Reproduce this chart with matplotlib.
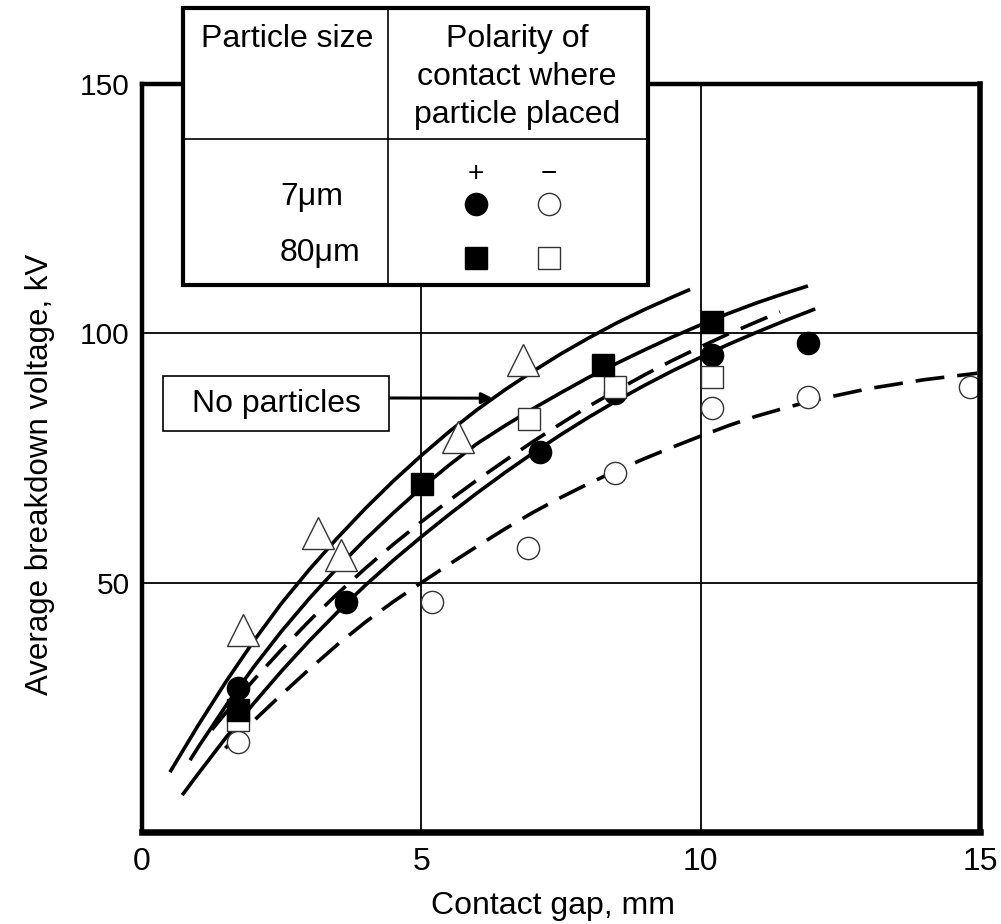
import matplotlib
matplotlib.use("Agg")
import matplotlib.pyplot as plt
from matplotlib.patches import Rectangle
from matplotlib.lines import Line2D

W, H = 1001, 924
REG = ["Liberation Sans", "DejaVu Sans"]

# ---- measured points: contact gap (mm) vs average breakdown voltage (kV) ----
gap_none = [1.81, 3.15, 3.56, 5.66, 6.82]
kv_none = [40.5, 60.0, 55.5, 79.2, 94.6]

gap_7um_pos = [1.72, 3.65, 7.12, 8.47, 10.2, 11.92]
kv_7um_pos = [28.9, 46.1, 76.2, 88.0, 95.6, 98.0]

gap_7um_neg = [1.72, 5.19, 6.91, 8.47, 10.2, 11.92, 14.82]
kv_7um_neg = [18.0, 46.1, 56.9, 72.0, 85.0, 87.2, 89.2]

gap_80um_pos = [1.72, 5.01, 8.25, 10.2]
kv_80um_pos = [24.5, 69.8, 93.6, 102.3]

gap_80um_neg = [1.72, 6.93, 8.47, 10.2]
kv_80um_neg = [22.5, 82.8, 89.2, 91.2]

# ---- fitted trend curves ----
fit_none_x = [0.5, 1.0, 1.5, 2.0, 2.5, 3.0, 3.5, 4.0, 4.5, 5.0, 5.5, 6.0,
              6.5, 7.0, 7.5, 8.0, 8.5, 9.0, 9.5, 9.81]
fit_none_y = [12.0, 21.3, 30.1, 38.3, 45.9, 52.7, 59.0, 64.9, 70.4, 75.5,
              80.3, 84.7, 88.7, 92.4, 95.9, 99.1, 102.1, 104.8, 107.3, 108.8]

fit_80pos_x = [0.86, 1.0, 1.5, 2.0, 2.5, 3.0, 3.5, 4.0, 4.5, 5.0, 5.5, 6.0,
               6.5, 7.0, 7.5, 8.0, 8.5, 9.0, 9.5, 10.0, 10.5, 11.0, 11.5,
               11.92]
fit_80pos_y = [14.4, 16.9, 25.3, 33.1, 40.3, 46.9, 53.0, 58.7, 64.0, 69.0,
               73.6, 77.9, 81.5, 84.9, 88.1, 91.2, 94.0, 96.7, 99.3, 101.7,
               104.0, 106.1, 108.0, 109.5]

fit_80neg_x = [1.25, 1.5, 2.0, 2.5, 3.0, 3.5, 4.0, 4.5, 5.0, 5.5, 6.0, 6.5,
               7.0, 7.5, 8.0, 8.5, 9.0, 9.5, 10.0, 10.5, 11.0, 11.42]
fit_80neg_y = [20.5, 23.9, 30.5, 36.6, 42.4, 47.8, 52.9, 57.7, 62.2, 66.5,
               70.6, 74.5, 78.3, 81.9, 85.4, 88.6, 91.7, 94.6, 97.3, 99.9,
               102.3, 104.3]

fit_7pos_x = [0.72, 1.0, 1.5, 2.0, 2.5, 3.0, 3.5, 4.0, 4.5, 5.0, 5.5, 6.0,
              6.5, 7.0, 7.5, 8.0, 8.5, 9.0, 9.5, 10.0, 10.5, 11.0, 11.5,
              12.05]
fit_7pos_y = [7.4, 11.6, 18.9, 25.8, 32.3, 38.4, 44.1, 49.5, 54.5, 59.2,
              63.7, 68.0, 72.1, 76.0, 79.7, 83.2, 86.5, 89.6, 92.5, 95.2,
              97.8, 100.2, 102.5, 104.9]

fit_7neg_x = [1.49, 2.0, 2.5, 3.0, 3.5, 4.0, 4.5, 5.0, 5.5, 6.0, 6.5, 7.0,
              7.5, 8.0, 8.5, 9.0, 9.5, 10.0, 10.5, 11.0, 11.5, 12.0, 13.0,
              14.0, 14.95]
fit_7neg_y = [16.8, 22.3, 27.6, 32.7, 37.6, 42.1, 46.2, 50.0, 53.7, 57.3,
              60.8, 64.1, 67.1, 69.9, 72.5, 74.9, 77.2, 79.4, 81.5, 83.4,
              85.0, 86.5, 88.9, 90.7, 92.0]

x_ticks = [0, 5, 10, 15]
y_ticks = [50, 100, 150]
x_grid = [5, 10]
y_grid = [50, 100]

size_labels = ["7\u03bcm", "80\u03bcm"]
polarity_labels = ["+", "\u2212"]
header_left = "Particle size"
header_right = ["Polarity of", "contact where", "particle placed"]
note_label = "No particles"


def fx(px):
    return px / W


def fy(py):
    return 1 - py / H


fig = plt.figure(figsize=(W / 100, H / 100), dpi=100)
ax = fig.add_axes([fx(142), fy(832), (980 - 142) / W, (832 - 84) / H])
ax.set_xlim(0, 15)
ax.set_ylim(0, 150)

for g in x_grid:
    ax.axvline(g, color="black", lw=1.3, zorder=1)
for g in y_grid:
    ax.axhline(g, color="black", lw=1.3, zorder=1)

for side, lw in (("left", 3.2), ("top", 3.2), ("right", 4.0), ("bottom", 4.7)):
    ax.spines[side].set_linewidth(lw)
    ax.spines[side].set_zorder(8)

ax.set_xticks(x_ticks)
ax.set_xticklabels([str(t) for t in x_ticks], fontsize=23, family=REG)
ax.set_yticks(y_ticks)
ax.set_yticklabels([str(t) for t in y_ticks], fontsize=21.5, family=REG)
ax.tick_params(axis="x", length=0, pad=11)
ax.tick_params(axis="y", length=0, pad=9)

# trend curves
curve_lw = 2.6
dash = (8, 3.6)
for cx, cy in ((fit_none_x, fit_none_y), (fit_80pos_x, fit_80pos_y),
               (fit_7pos_x, fit_7pos_y)):
    ax.plot(cx, cy, color="black", lw=curve_lw, zorder=2,
            solid_capstyle="butt", solid_joinstyle="round")
for cx, cy in ((fit_80neg_x, fit_80neg_y), (fit_7neg_x, fit_7neg_y)):
    ax.plot(cx, cy, color="black", lw=curve_lw, zorder=2, dashes=dash,
            dash_capstyle="butt", dash_joinstyle="round")

# measured points
ms = 16
ax.plot(gap_none, kv_none, ls="none", marker="^", ms=23, mfc="white",
        mec="#333333", mew=1.0, zorder=3)
ax.plot(gap_7um_neg, kv_7um_neg, ls="none", marker="o", ms=ms, mfc="white",
        mec="#333333", mew=1.0, zorder=3)
ax.plot(gap_7um_pos, kv_7um_pos, ls="none", marker="o", ms=ms, mfc="black",
        mec="black", zorder=4)
ax.plot(gap_80um_neg, kv_80um_neg, ls="none", marker="s", ms=ms, mfc="white",
        mec="#333333", mew=1.0, zorder=5)
ax.plot(gap_80um_pos, kv_80um_pos, ls="none", marker="s", ms=ms, mfc="black",
        mec="black", zorder=6)

# axis titles
fig.text(fx(40), fy(474), "Average breakdown voltage, kV", rotation=90,
         ha="center", va="center", fontsize=22.5, family=REG)
fig.text(fx(553), fy(906), "Contact gap, mm", ha="center", va="center",
         fontsize=23, family=REG)

# "No particles" call-out
fig.add_artist(Rectangle((fx(163), fy(431)), (389 - 163) / W, (431 - 376) / H,
                         transform=fig.transFigure, facecolor="white",
                         edgecolor="black", lw=1.2, zorder=9))
fig.text(fx(276), fy(404), note_label, ha="center", va="center",
         fontsize=23, family=REG, zorder=10)
ax.annotate("", xy=(6.3, 87.0),
            xytext=(fx(389), fy(398)), textcoords="figure fraction",
            arrowprops=dict(arrowstyle="-|>", lw=2.2, color="black",
                            mutation_scale=16, shrinkA=0, shrinkB=1),
            zorder=7)

# key table
fig.add_artist(Rectangle((fx(183), fy(285)), (648 - 183) / W, (285 - 8) / H,
                         transform=fig.transFigure, facecolor="white",
                         edgecolor="black", lw=3.0, zorder=10))
fig.add_artist(Line2D([fx(388), fx(388)], [fy(9), fy(284)],
                      transform=fig.transFigure, color="black", lw=1.2,
                      zorder=11))
fig.add_artist(Line2D([fx(184), fx(647)], [fy(139), fy(139)],
                      transform=fig.transFigure, color="black", lw=1.2,
                      zorder=11))
fig.text(fx(287), fy(39), header_left, ha="center", va="center",
         fontsize=23, family=REG, zorder=12)
for line, ly in zip(header_right, (39, 77, 115)):
    fig.text(fx(517), fy(ly), line, ha="center", va="center",
             fontsize=23, family=REG, zorder=12)
fig.text(fx(476), fy(174), polarity_labels[0], ha="center", va="center",
         fontsize=20, family=REG, zorder=12)
fig.text(fx(549), fy(174), polarity_labels[1], ha="center", va="center",
         fontsize=20, family=REG, zorder=12)
fig.text(fx(280), fy(197), size_labels[0], ha="left", va="center",
         fontsize=23, family=REG, zorder=12)
fig.text(fx(280), fy(253), size_labels[1], ha="left", va="center",
         fontsize=23, family=REG, zorder=12)

key_marks = [
    (476, 204, "o", "black"),
    (549, 204, "o", "white"),
    (476, 258, "s", "black"),
    (549, 258, "s", "white"),
]
for kx, ky, mk, fc in key_marks:
    fig.add_artist(Line2D([fx(kx)], [fy(ky)], transform=fig.transFigure,
                          ls="none", marker=mk, ms=ms, mfc=fc,
                          mec="black" if fc == "black" else "#333333",
                          mew=1.0, zorder=12))

fig.savefig("out.png", dpi=100)
